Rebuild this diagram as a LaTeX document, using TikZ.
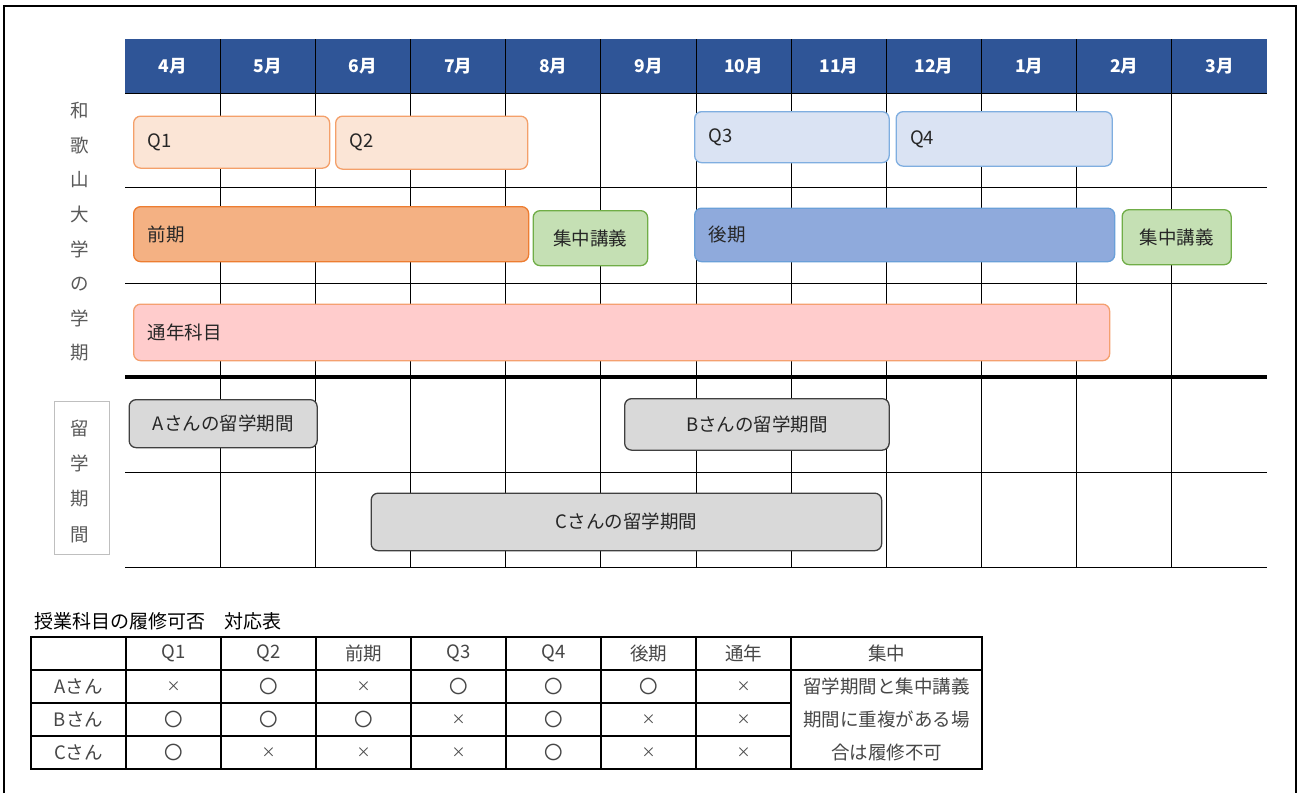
\documentclass[tikz,border=0pt]{standalone}
\usepackage{fontspec}
\setmainfont{Noto Sans CJK JP}
\definecolor{hdr}{HTML}{2F5597}
\definecolor{qoF}{HTML}{FBE5D6}
\definecolor{qoL}{HTML}{F4A06A}
\definecolor{zenF}{HTML}{F4B183}
\definecolor{zenL}{HTML}{ED7D31}
\definecolor{qbF}{HTML}{DAE3F3}
\definecolor{qbL}{HTML}{7FAEE0}
\definecolor{koF}{HTML}{8FAADC}
\definecolor{koL}{HTML}{6A9FD8}
\definecolor{gF}{HTML}{C5E0B4}
\definecolor{gL}{HTML}{70AD47}
\definecolor{tsF}{HTML}{FFCCCC}
\definecolor{tsL}{HTML}{F4A070}
\definecolor{stF}{HTML}{D9D9D9}
\definecolor{stL}{HTML}{404040}
\definecolor{txt}{HTML}{262626}
\definecolor{side}{HTML}{595959}
\newcommand\lblfont{\fontsize{18.5}{22}\selectfont}
\newcommand\xmk{{\fontsize{14}{16}\selectfont ×}}
\newcommand\omk{〇}
\newcommand\gbar[7]{%
  \pgfmathsetmacro\gbW{#5-#3}%
  \pgfmathsetmacro\gbH{#6-#4}%
  \pgfmathsetmacro\gbT{#5-#3-28}%
  \node[#2, anchor=north west, minimum width=\gbW pt, minimum height=\gbH pt, text width=\gbT pt] (#1) at (#3,#4) {#7};}
\begin{document}
\begin{tikzpicture}[x=1pt,y=-1pt,
  gbox/.style={rounded corners=7pt, line width=1.3pt, inner xsep=14pt, inner ysep=0pt, align=left, font=\lblfont, text=txt},
  cbox/.style={gbox, align=center},
  month/.style={font=\fontsize{17.5}{20}\selectfont\bfseries, text=white},
  grid/.style={line width=1pt, draw=black},
  sidech/.style={font=\lblfont, text=side, inner sep=0pt},
  tline/.style={line width=1.8pt, draw=black},
  tcell/.style={font=\lblfont, text=txt!85, inner sep=0pt}]
\useasboundingbox (0,0) rectangle (1299,793);
\fill[white] (0,0) rectangle (1299,793);
% outer frame
\draw[line width=1.5pt] (4,793) -- (4,6) -- (1296,6) -- (1296,793);
% header band
\node[fill=hdr, inner sep=0pt, anchor=north west, minimum width=1142pt, minimum height=54pt] (head) at (125,39) {};
\foreach \m [count=\i] in {4月,5月,6月,7月,8月,9月,10月,11月,12月,1月,2月,3月}
  \node[month] (m\i) at ({125+95.1667*(\i-0.5)},66) {\m};
% grid
\foreach \i in {1,...,11}
  \draw[grid] ({125+95.1667*\i},39) -- ({125+95.1667*\i},567);
\foreach \y in {93,187,283,472,567}
  \draw[grid] (125,\y) -- (1267,\y);
\draw[line width=4pt] (125,377) -- (1267,377);
% side labels
\foreach \c [count=\i] in {和,歌,山,大,学,の,学,期}
  \node[sidech] (s\i) at (80,{110.7+34.6*(\i-1)}) {\c};
\node[draw=black!25, line width=0.8pt, anchor=north west, minimum width=55pt, minimum height=153pt, inner sep=0pt] (ryu) at (54,400.5) {};
\foreach \c [count=\i] in {留,学,期,間}
  \node[sidech] (r\i) at (80,{428.5+35.3*(\i-1)}) {\c};
% bars
\gbar{q1}{gbox, fill=qoF, draw=qoL}{133}{115.5}{329}{167.5}{Q1\\[4pt]}
\gbar{q2}{gbox, fill=qoF, draw=qoL}{335}{115.5}{527}{168.5}{Q2\\[4pt]}
\gbar{q3}{gbox, fill=qbF, draw=qbL}{694}{111}{888.5}{162}{Q3\\[2pt]}
\gbar{q4}{gbox, fill=qbF, draw=qbL}{895.5}{111}{1111.5}{165.5}{Q4\\[6pt]}
\gbar{zen}{gbox, fill=zenF, draw=zenL}{133}{206}{528}{261}{前期\\[2pt]}
\gbar{sh1}{cbox, fill=gF, draw=gL, inner xsep=4pt}{532.5}{210}{647}{265}{集中講義}
\gbar{ko}{gbox, fill=koF, draw=koL}{694}{207.5}{1114}{261}{後期}
\gbar{sh2}{cbox, fill=gF, draw=gL, inner xsep=4pt}{1121.5}{209}{1230.5}{264}{集中講義}
\gbar{tsu}{gbox, fill=tsF, draw=tsL}{133}{303.5}{1109}{360}{通年科目}
\gbar{sa}{cbox, fill=stF, draw=stL}{128.5}{399}{316.5}{447}{Aさんの留学期間}
\gbar{sb}{cbox, fill=stF, draw=stL}{624}{398}{888.5}{449.5}{Bさんの留学期間}
\gbar{sc}{cbox, fill=stF, draw=stL}{370.5}{492.5}{881}{550}{Cさんの留学期間}
% table
\node[font=\fontsize{19}{22}\selectfont, text=black, anchor=west, inner sep=0pt] (ttl) at (34,621) {授業科目の履修可否　対応表};
\draw[tline] (31,637) rectangle (982,769);
\draw[tline] (31,670) -- (982,670);
\foreach \y in {703,736} \draw[tline] (31,\y) -- (791,\y);
\foreach \x in {126,221,316,411,506,601,696,791} \draw[tline] (\x,637) -- (\x,769);
\foreach \t [count=\i] in {Q1,Q2,前期,Q3,Q4,後期,通年}
  \node[tcell] (h\i) at ({126+95*(\i-0.5)},653.5) {\t};
\node[tcell] (h8) at (886.5,653.5) {集中};
\foreach \nm/\mk [count=\r] in {Aさん/{\xmk,\omk,\xmk,\omk,\omk,\omk,\xmk},Bさん/{\omk,\omk,\omk,\xmk,\omk,\xmk,\xmk},Cさん/{\omk,\xmk,\xmk,\xmk,\omk,\xmk,\xmk}} {
  \node[tcell] (p\r) at (78.5,{686.5+33*(\r-1)}) {\nm};
  \foreach \m [count=\c] in \mk
    \node[tcell] (c\r-\c) at ({126+95*(\c-0.5)},{686.5+33*(\r-1)}) {\m};
}
\node[tcell] (n1) at (886.5,686.5) {留学期間と集中講義};
\node[tcell] (n2) at (886.5,719.5) {期間に重複がある場};
\node[tcell] (n3) at (886.5,752.5) {合は履修不可};
\end{tikzpicture}
\end{document}
